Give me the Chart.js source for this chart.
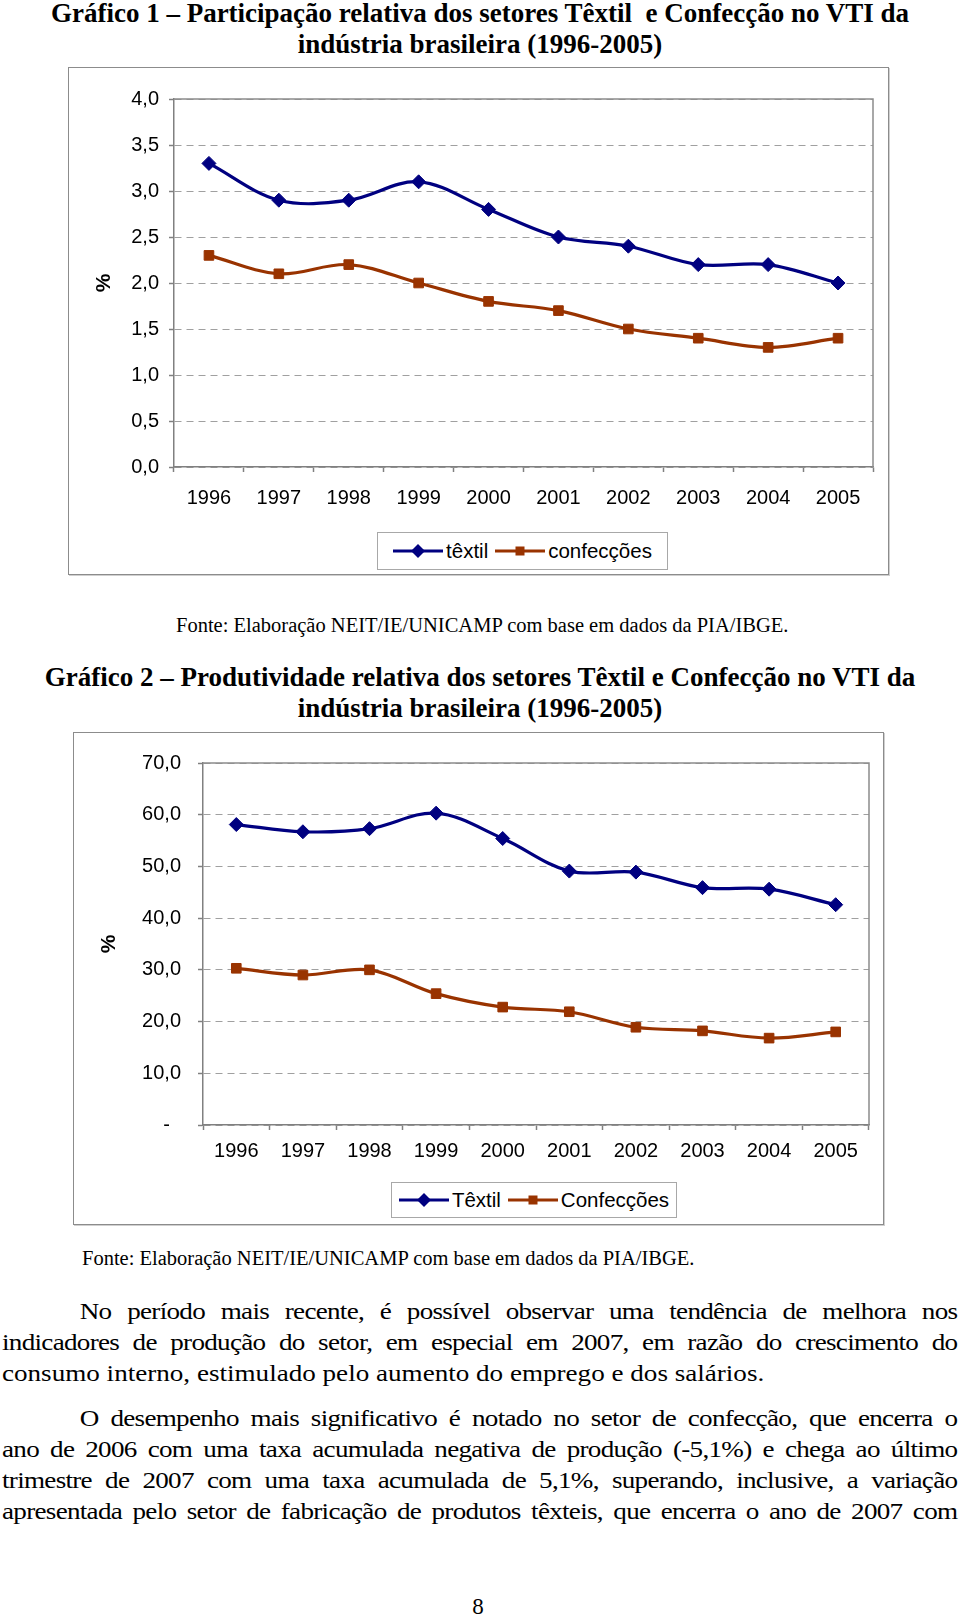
<!DOCTYPE html>
<html><head><meta charset="utf-8">
<script src="https://cdn.jsdelivr.net/npm/chart.js@4"></script>
<style>
body{margin:0;background:#fff;width:960px;height:1617px;position:relative;overflow:hidden;font-family:"Liberation Serif","Times New Roman",serif;color:#000}
.t{position:absolute;left:0;width:960px;text-align:center;font-weight:bold;font-size:27px;line-height:31px;white-space:nowrap}
.box{position:absolute;border:1px solid #8c8c8c;box-sizing:border-box;box-shadow:1px 1px 0 #cfcfcf}
canvas{position:absolute}
.src{position:absolute;font-size:20.5px;line-height:24px;white-space:nowrap}
.leg{position:absolute;border:1px solid #a8a8a8;box-sizing:border-box;display:flex;align-items:center;justify-content:center;font-family:"Liberation Sans",Arial,sans-serif;font-size:20.5px;background:#fff}
.leg svg{margin-right:3px}
.leg span{margin-right:7px}
.leg span:last-child{margin-right:0}
.p{position:absolute;left:2px;width:811px;font-size:23px;line-height:31px;transform:scaleX(1.178);transform-origin:0 0}
.l{text-align:justify;text-align-last:justify;height:31px;letter-spacing:-0.6px}
.l.first{text-indent:66px}
.l.last{text-align-last:left;letter-spacing:0}
.pg{position:absolute;left:0;width:956px;text-align:center;top:1595px;font-size:23px;line-height:24px}
</style>
</head><body>

<div class="t" style="top:-2px">Gráfico 1 – Participação relativa dos setores Têxtil&nbsp; e Confecção no VTI da</div>
<div class="t" style="top:29px">indústria brasileira (1996-2005)</div>

<div class="box" style="left:68px;top:67px;width:821px;height:508px"></div>
<canvas id="c1" width="821" height="508" style="left:68px;top:67px"></canvas>
<div class="leg" style="left:377px;top:532px;width:291px;height:38px">
  <svg width="50" height="16"><line x1="0" y1="8" x2="50" y2="8" stroke="#000080" stroke-width="3"/><polygon points="25,1 32,8 25,15 18,8" fill="#000080"/></svg><span>têxtil</span>
  <svg width="50" height="16"><line x1="0" y1="8" x2="50" y2="8" stroke="#993300" stroke-width="3"/><rect x="20.5" y="3.5" width="9" height="9" fill="#993300"/></svg><span>confecções</span>
</div>
<div class="src" style="left:176px;top:613px">Fonte: Elaboração NEIT/IE/UNICAMP com base em dados da PIA/IBGE.</div>

<div class="t" style="top:662px">Gráfico 2 – Produtividade relativa dos setores Têxtil e Confecção no VTI da</div>
<div class="t" style="top:693px">indústria brasileira (1996-2005)</div>

<div class="box" style="left:73px;top:732px;width:811px;height:493px"></div>
<canvas id="c2" width="811" height="493" style="left:73px;top:732px"></canvas>
<div class="leg" style="left:391px;top:1182px;width:286px;height:36px">
  <svg width="50" height="16"><line x1="0" y1="8" x2="50" y2="8" stroke="#000080" stroke-width="3"/><polygon points="25,1 32,8 25,15 18,8" fill="#000080"/></svg><span>Têxtil</span>
  <svg width="50" height="16"><line x1="0" y1="8" x2="50" y2="8" stroke="#993300" stroke-width="3"/><rect x="20.5" y="3.5" width="9" height="9" fill="#993300"/></svg><span>Confecções</span>
</div>
<div class="src" style="left:82px;top:1246px">Fonte: Elaboração NEIT/IE/UNICAMP com base em dados da PIA/IBGE.</div>

<div class="p" style="top:1296px">
<div class="l first">No período mais recente, é possível observar uma tendência de melhora nos</div>
<div class="l">indicadores de produção do setor, em especial em 2007, em razão do crescimento do</div>
<div class="l last">consumo interno, estimulado pelo aumento do emprego e dos salários.</div>
</div>
<div class="p" style="top:1403px">
<div class="l first">O desempenho mais significativo é notado no setor de confecção, que encerra o</div>
<div class="l">ano de 2006 com uma taxa acumulada negativa de produção (-5,1%) e chega ao último</div>
<div class="l">trimestre de 2007 com uma taxa acumulada de 5,1%, superando, inclusive, a variação</div>
<div class="l">apresentada pelo setor de fabricação de produtos têxteis, que encerra o ano de 2007 com</div>
</div>
<div class="pg">8</div>

<script>
const years = ['1996','1997','1998','1999','2000','2001','2002','2003','2004','2005'];

const textil1 = [3.3, 2.9, 2.9, 3.1, 2.8, 2.5, 2.4, 2.2, 2.2, 2.0];
const confec1 = [2.3, 2.1, 2.2, 2.0, 1.8, 1.7, 1.5, 1.4, 1.3, 1.4];
const yTicks1 = ['0,0','0,5','1,0','1,5','2,0','2,5','3,0','3,5','4,0'];

const textil2 = [58.1, 56.7, 57.3, 60.3, 55.4, 49.1, 48.9, 45.9, 45.6, 42.6];
const confec2 = [30.3, 29.0, 30.0, 25.4, 22.8, 21.9, 18.9, 18.2, 16.8, 18.0];
const yTicks2 = ['-  ','10,0','20,0','30,0','40,0','50,0','60,0','70,0'];

const NAVY = '#000080', BROWN = '#993300';
const tickFont = {family: '"Liberation Sans", Arial, sans-serif', size: 20};

const framePlugin = {
  id: 'frame',
  beforeDatasetsDraw(chart) {
    const {ctx, chartArea: a} = chart;
    ctx.save();
    ctx.strokeStyle = '#8c8c8c';
    ctx.lineWidth = 1.5;
    ctx.beginPath();
    ctx.moveTo(a.left, a.top);
    ctx.lineTo(a.right, a.top);
    ctx.lineTo(a.right, a.bottom);
    ctx.stroke();
    ctx.restore();
  }
};

function makeChart(id, tData, cData, tLabel, cLabel, yLabels, max, step, cfg) {
  return new Chart(document.getElementById(id), {
    type: 'line',
    data: {
      labels: years,
      datasets: [
        {label: tLabel, data: tData, borderColor: NAVY, backgroundColor: NAVY, borderWidth: 3.2,
         tension: 0.35, pointStyle: 'rectRot', pointRadius: 7, pointBorderWidth: 1,
         pointBackgroundColor: NAVY, pointBorderColor: NAVY},
        {label: cLabel, data: cData, borderColor: BROWN, backgroundColor: BROWN, borderWidth: 3.2,
         tension: 0.35, pointStyle: 'rect', pointRadius: 6.8, pointBorderWidth: 1,
         pointBackgroundColor: BROWN, pointBorderColor: BROWN}
      ]
    },
    options: {
      responsive: false,
      animation: false,
      layout: {padding: {top: cfg.top, right: cfg.right, left: 0, bottom: 0}},
      plugins: {legend: {display: false}, tooltip: {enabled: false}},
      scales: {
        x: {
          offset: true,
          grid: {display: true, drawOnChartArea: false, drawTicks: true, tickLength: 5,
                 offset: true, color: '#808080', tickWidth: 1.5},
          border: {display: true, color: '#808080', width: 1.5},
          ticks: {font: tickFont, color: '#000', padding: cfg.xPad, maxRotation: 0, autoSkip: false},
          afterFit(s) { s.height = cfg.xH; }
        },
        y: {
          min: 0, max: max,
          ticks: {stepSize: step, font: tickFont, color: '#000', padding: cfg.yPad,
                  callback: (v, i) => yLabels[i]},
          grid: {color: '#a0a0a0', lineWidth: 1, tickLength: 5, tickColor: '#808080',
                 tickWidth: 1.5, tickBorderDash: []},
          border: {display: true, color: '#808080', width: 1.5, dash: [7, 5]},
          title: {display: true, text: '%', color: '#000',
                  font: {family: '"Liberation Sans", Arial, sans-serif', size: 21, weight: 'bold'},
                  padding: {top: 24, bottom: 0}},
          afterFit(s) { s.width = cfg.yW; }
        }
      }
    },
    plugins: [framePlugin]
  });
}

makeChart('c1', textil1, confec1, 'têxtil', 'confecções', yTicks1, 4, 0.5,
  {top: 32, right: 16, xH: 108, yW: 106, xPad: 14, yPad: 10});
makeChart('c2', textil2, confec2, 'Têxtil', 'Confecções', yTicks2, 70, 10,
  {top: 31, right: 15, xH: 100, yW: 130, xPad: 9, yPad: 17});
</script>
</body></html>
